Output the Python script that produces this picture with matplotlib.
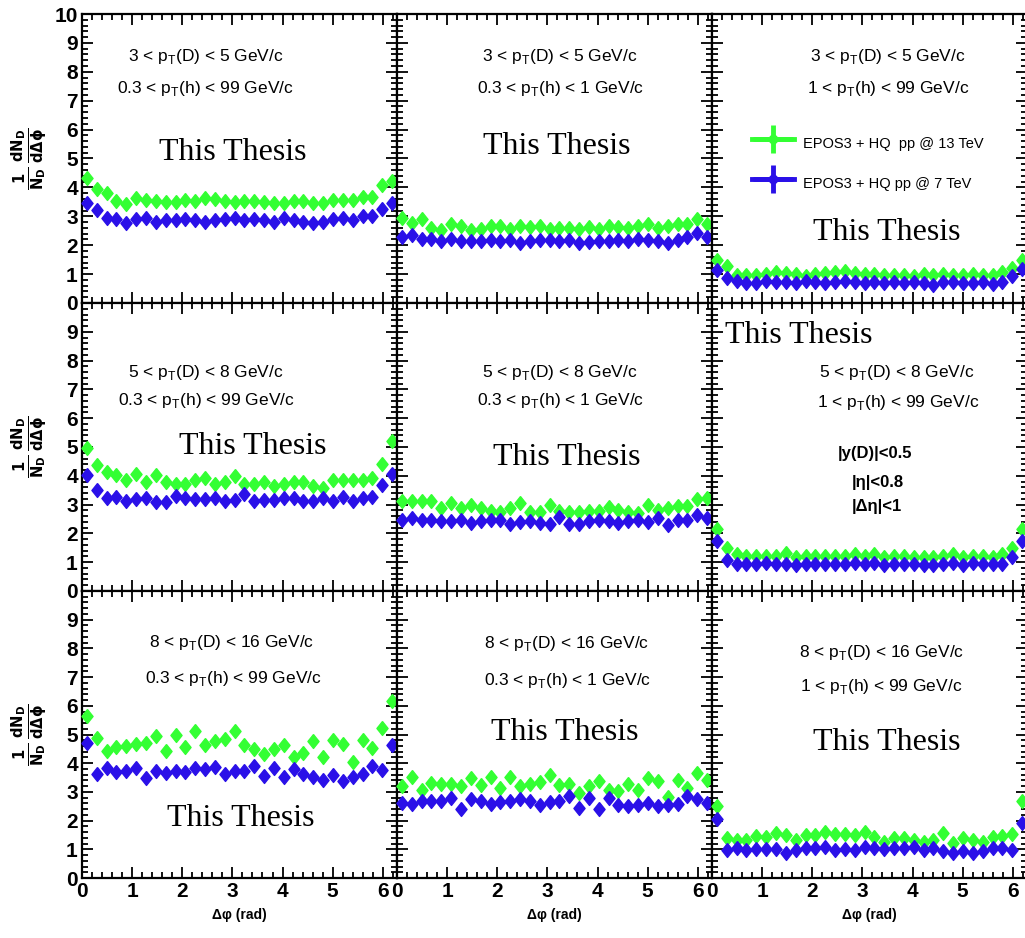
import numpy as np
import matplotlib
matplotlib.use("Agg")
import matplotlib.pyplot as plt
from matplotlib import font_manager
from matplotlib.ticker import MultipleLocator, FuncFormatter
from matplotlib.container import ErrorbarContainer
from matplotlib.legend_handler import HandlerErrorbar

# 32 bins in delta phi, 0 .. 2pi
nbins = 32
dphi = (np.arange(nbins) + 0.5) * 2 * np.pi / nbins

# EPOS3 + HQ, pp @ 13 TeV (green) and pp @ 7 TeV (blue), row = pT(D) bin, col = pT(h) bin
g_11 = [4.34, 3.95, 3.82, 3.53, 3.41, 3.64, 3.58, 3.53, 3.49, 3.49, 3.58, 3.53, 3.64, 3.61, 3.53, 3.49,
        3.53, 3.53, 3.49, 3.45, 3.45, 3.53, 3.53, 3.45, 3.45, 3.56, 3.58, 3.58, 3.68, 3.68, 4.10, 4.22]
b_11 = [3.47, 3.21, 2.95, 2.89, 2.77, 2.91, 2.95, 2.80, 2.87, 2.87, 2.91, 2.87, 2.80, 2.87, 2.89, 2.95,
        2.87, 2.89, 2.87, 2.80, 2.95, 2.87, 2.80, 2.77, 2.80, 2.89, 2.95, 2.87, 3.01, 3.01, 3.26, 3.47]
g_12 = [2.95, 2.77, 2.89, 2.60, 2.54, 2.75, 2.66, 2.54, 2.57, 2.66, 2.68, 2.57, 2.66, 2.64, 2.68, 2.57,
        2.60, 2.60, 2.57, 2.64, 2.57, 2.66, 2.64, 2.60, 2.66, 2.72, 2.60, 2.68, 2.72, 2.75, 2.89, 2.72]
b_12 = [2.29, 2.34, 2.22, 2.22, 2.14, 2.22, 2.14, 2.14, 2.14, 2.17, 2.14, 2.17, 2.06, 2.14, 2.17, 2.17,
        2.14, 2.17, 2.06, 2.10, 2.14, 2.14, 2.17, 2.14, 2.22, 2.17, 2.14, 2.08, 2.17, 2.29, 2.43, 2.29]
g_13 = [1.50, 1.27, 0.98, 0.98, 0.98, 1.02, 1.06, 1.04, 1.02, 0.95, 1.02, 1.04, 1.06, 1.10, 1.04, 1.02,
        1.02, 0.98, 0.98, 0.98, 0.95, 1.02, 0.98, 1.02, 0.98, 0.98, 1.02, 0.98, 0.98, 1.06, 1.21, 1.50]
b_13 = [1.13, 0.87, 0.75, 0.69, 0.69, 0.75, 0.72, 0.72, 0.69, 0.75, 0.72, 0.69, 0.72, 0.75, 0.72, 0.69,
        0.72, 0.69, 0.72, 0.69, 0.72, 0.69, 0.64, 0.72, 0.72, 0.69, 0.69, 0.72, 0.66, 0.72, 0.92, 1.18]
g_21 = [4.98, 4.36, 4.13, 4.04, 3.87, 4.07, 3.79, 4.04, 3.79, 3.73, 3.73, 3.87, 3.92, 3.70, 3.77, 3.98,
        3.73, 3.70, 3.77, 3.65, 3.70, 3.79, 3.79, 3.65, 3.58, 3.85, 3.85, 3.85, 3.85, 3.92, 4.41, 5.21]
b_21 = [4.04, 3.50, 3.24, 3.28, 3.13, 3.20, 3.24, 3.08, 3.08, 3.31, 3.24, 3.20, 3.20, 3.24, 3.13, 3.16,
        3.36, 3.11, 3.16, 3.16, 3.22, 3.22, 3.11, 3.11, 3.22, 3.11, 3.28, 3.11, 3.22, 3.28, 3.67, 4.07]
g_22 = [3.11, 3.13, 3.11, 3.11, 2.88, 3.05, 2.88, 2.99, 2.88, 2.79, 2.76, 2.88, 3.05, 2.74, 2.76, 2.97,
        2.79, 2.74, 2.76, 2.79, 2.79, 2.90, 2.82, 2.76, 2.71, 2.99, 2.82, 2.88, 2.94, 2.94, 3.20, 3.22]
b_22 = [2.48, 2.54, 2.48, 2.48, 2.42, 2.42, 2.48, 2.37, 2.42, 2.48, 2.48, 2.33, 2.40, 2.42, 2.37, 2.33,
        2.56, 2.33, 2.33, 2.42, 2.45, 2.42, 2.37, 2.42, 2.45, 2.40, 2.54, 2.29, 2.48, 2.45, 2.63, 2.54]
g_23 = [2.14, 1.51, 1.29, 1.23, 1.23, 1.23, 1.23, 1.31, 1.17, 1.23, 1.23, 1.23, 1.23, 1.23, 1.29, 1.23,
        1.29, 1.17, 1.23, 1.23, 1.17, 1.17, 1.17, 1.23, 1.29, 1.17, 1.23, 1.23, 1.17, 1.29, 1.51, 2.17]
b_23 = [1.72, 1.08, 0.94, 0.94, 0.94, 0.97, 0.94, 0.94, 0.89, 0.94, 0.94, 0.94, 0.94, 0.94, 0.97, 0.94,
        0.97, 0.89, 0.94, 0.94, 0.94, 0.92, 0.92, 0.94, 0.97, 0.89, 0.97, 0.94, 0.94, 0.94, 1.17, 1.72]
g_31 = [5.63, 4.88, 4.42, 4.56, 4.59, 4.67, 4.71, 4.94, 4.44, 5.00, 4.56, 5.11, 4.65, 4.79, 4.86, 5.11,
        4.63, 4.48, 4.32, 4.48, 4.65, 4.21, 4.36, 4.77, 4.21, 4.82, 4.67, 4.05, 4.82, 4.53, 5.21, 6.16]
b_31 = [4.71, 3.61, 3.84, 3.70, 3.74, 3.84, 3.49, 3.72, 3.66, 3.72, 3.70, 3.84, 3.81, 3.86, 3.61, 3.74,
        3.74, 3.90, 3.55, 3.84, 3.51, 3.81, 3.61, 3.51, 3.43, 3.58, 3.37, 3.51, 3.61, 3.90, 3.78, 4.65]
g_32 = [3.20, 3.51, 3.08, 3.32, 3.26, 3.28, 3.20, 3.47, 3.23, 3.51, 3.12, 3.51, 3.20, 3.26, 3.35, 3.58,
        3.23, 3.26, 2.97, 3.20, 3.37, 3.05, 3.03, 3.26, 3.08, 3.49, 3.37, 2.82, 3.40, 3.12, 3.66, 3.43]
b_32 = [2.62, 2.59, 2.70, 2.70, 2.70, 2.79, 2.39, 2.74, 2.68, 2.59, 2.66, 2.68, 2.74, 2.70, 2.56, 2.66,
        2.68, 2.85, 2.45, 2.79, 2.39, 2.79, 2.56, 2.50, 2.56, 2.62, 2.50, 2.56, 2.59, 2.85, 2.74, 2.62]
g_33 = [2.50, 1.38, 1.34, 1.31, 1.46, 1.42, 1.58, 1.50, 1.31, 1.50, 1.50, 1.62, 1.54, 1.54, 1.50, 1.62,
        1.42, 1.26, 1.40, 1.40, 1.34, 1.26, 1.31, 1.58, 1.23, 1.38, 1.34, 1.26, 1.42, 1.46, 1.54, 2.70]
b_33 = [2.04, 0.96, 1.06, 0.96, 1.00, 1.00, 1.00, 0.88, 0.96, 1.03, 1.03, 1.08, 0.96, 1.00, 0.96, 1.08,
        1.03, 1.00, 1.03, 1.03, 1.08, 0.96, 1.06, 0.94, 0.88, 0.94, 0.88, 0.94, 1.03, 1.03, 0.96, 1.92]

green = [[g_11, g_12, g_13], [g_21, g_22, g_23], [g_31, g_32, g_33]]
blue = [[b_11, b_12, b_13], [b_21, b_22, b_23], [b_31, b_32, b_33]]

ptD_labels = ["3 < p$_\\mathregular{T}$(D) < 5 GeV/c", "5 < p$_\\mathregular{T}$(D) < 8 GeV/c",
              "8 < p$_\\mathregular{T}$(D) < 16 GeV/c"]
pth_labels = ["0.3 < p$_\\mathregular{T}$(h) < 99 GeV/c", "0.3 < p$_\\mathregular{T}$(h) < 1 GeV/c",
              "1 < p$_\\mathregular{T}$(h) < 99 GeV/c"]
legend_labels = ["EPOS3 + HQ  pp @ 13 TeV", "EPOS3 + HQ pp @ 7 TeV"]
cut_labels = ["|y(D)|<0.5", "|\u03b7|<0.8", "|\u0394\u03b7|<1"]

c_green = "#33ff33"
c_blue = "#2a10e8"

names = {f.name for f in font_manager.fontManager.ttflist}
sans = "Liberation Sans Narrow" if "Liberation Sans Narrow" in names else "Liberation Sans"
serif = "Liberation Serif"

W, H = 1025, 938
fig = plt.figure(figsize=(W / 100, H / 100), dpi=100)


def px(x, y):
    return x / W, 1 - y / H


col_left = [82, 397, 712]
row_top = [14, 303, 591]
row_h = [289, 288, 287]
panel_w = 315

diamond = [(0, 1), (0.8, 0), (0, -1), (-0.8, 0), (0, 1)]

# text positions (figure pixels) per panel: (ptD line, pth line, "This Thesis")
txt_pos = [
    [((206, 57), (205, 88), (233, 152)), ((560, 57), (561, 88), (557, 146)), ((888, 57), (888, 88), (887, 233))],
    [((206, 372), (206, 400), (253, 446)), ((560, 372), (561, 400), (567, 457)), ((897, 373), (898, 402), (799, 335))],
    [((232, 642), (233, 678), (241, 818)), ((567, 643), (568, 680), (565, 732)), ((882, 652), (881, 687), (887, 742))],
]

# lower rows: the "10" label sits under the panel above
no_top = FuncFormatter(lambda v, pos: "" if v > 9.5 else "%d" % v)

axes = [[None] * 3 for _ in range(3)]
for r in range(3):
    for c in range(3):
        x0, y0 = px(col_left[c], row_top[r] + row_h[r])
        ax = fig.add_axes([x0, y0, panel_w / W, row_h[r] / H])
        axes[r][c] = ax
        ax.set_xlim(0, 2 * np.pi)
        ax.set_ylim(0, 10)
        ax.xaxis.set_major_locator(MultipleLocator(1))
        ax.xaxis.set_minor_locator(MultipleLocator(0.2))
        ax.yaxis.set_major_locator(MultipleLocator(1))
        ax.yaxis.set_minor_locator(MultipleLocator(0.2))
        if r > 0:
            ax.yaxis.set_major_formatter(no_top)
        ax.tick_params(which="both", direction="in", top=True, right=True, width=1.3)
        ax.tick_params(which="major", length=8)
        ax.tick_params(which="minor", length=4)
        for s in ax.spines.values():
            s.set_linewidth(1.6)
        ax.tick_params(labelleft=(c == 0), labelbottom=(r == 2), labelsize=15, pad=3)
        for lab in ax.get_xticklabels() + ax.get_yticklabels():
            lab.set_family(sans)
            lab.set_weight("bold")

        ax.plot(dphi, green[r][c], linestyle="none", marker=diamond, ms=10, color=c_green,
                clip_on=False, zorder=3)
        ax.plot(dphi, blue[r][c], linestyle="none", marker=diamond, ms=10, color=c_blue,
                clip_on=False, zorder=4)

        p1, p2, p3 = txt_pos[r][c]
        fig.text(*px(*p1), ptD_labels[r], ha="center", va="center", fontsize=12.5, family=sans)
        fig.text(*px(*p2), pth_labels[c], ha="center", va="center", fontsize=12.5, family=sans)
        fig.text(*px(*p3), "This Thesis", ha="center", va="center", fontsize=23, family=serif)

        if c == 0:
            fig.text(*px(30, row_top[r] + row_h[r] / 2),
                     r"$\mathbf{\frac{1}{N_{D}}\,\frac{dN_{D}}{d\Delta\phi}}$",
                     rotation=90, ha="center", va="center", fontsize=15)
        if r == 2:
            fig.text(*px(col_left[c] + panel_w / 2, 915), "\u0394\u03c6 (rad)", ha="center", va="center",
                     fontsize=10, family=sans, weight="bold")

# legend in the upper right panel
ax = axes[0][2]
hs = []
for col in [c_green, c_blue]:
    h = ax.errorbar([np.nan], [np.nan], xerr=[0.1], yerr=[0.1], fmt="-o", color=col, lw=3.5,
                    elinewidth=3.5, ms=6)
    hs.append(h)
ax.legend(hs, legend_labels, loc="upper left", bbox_to_anchor=(0.085, 0.645), frameon=False,
          prop={"family": sans, "size": 10.5}, handlelength=2.9, handleheight=2.6, labelspacing=0.8,
          handletextpad=0.6,
          handler_map={ErrorbarContainer: HandlerErrorbar(xerr_size=1.4, yerr_size=0.95)})

# acceptance cuts in the middle right panel
for txt, (x, y) in zip(cut_labels, [(875, 453), (878, 482), (877, 507)]):
    fig.text(*px(x, y), txt, ha="center", va="center", fontsize=12, family=sans, weight="bold")

fig.savefig("out.png", dpi=100)
